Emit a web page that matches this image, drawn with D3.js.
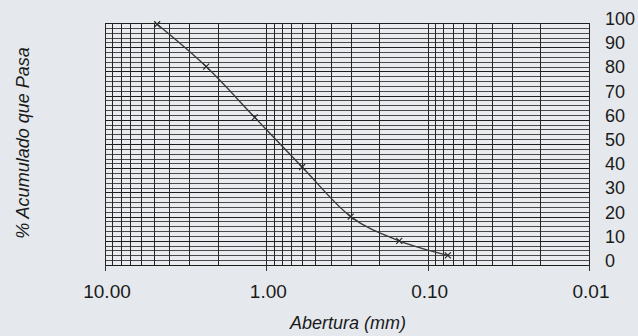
<!DOCTYPE html>
<meta charset="utf-8">
<head>
  <title>Curva granulometrica</title>
</head>
<style>
body { margin: 0; background: #e5e9ed; }
.curve { fill: none; stroke: #3a3a3a; stroke-width: 1.4px; }
.vgrid { stroke: #262626; stroke-width: 1px; }
.hgrid { stroke: #4a4a4a; stroke-width: 1px; }
.hgrid.major { stroke: #1e1e1e; }
.lbl { font-family: "Liberation Sans", Arial, sans-serif; fill: #1a1a1a; }
</style>
<body>
<script src="https://d3js.org/d3.v7.min.js"></script>
<script>

// sieve openings (mm) and % passing
var sizes = [4.75, 2.36, 1.18, 0.60, 0.30, 0.15, 0.075];
var passing = [99.5, 82, 61, 40.5, 20, 10, 4];

// tick labels
var xTicks = [10, 1, 0.1, 0.01];
var xTickLabels = ["10.00", "1.00", "0.10", "0.01"];
var yTicks = [0, 10, 20, 30, 40, 50, 60, 70, 80, 90, 100];

var width = 638, height = 336;
var margin = {top: 23, right: 49, bottom: 71, left: 105};

var svg = d3.select("body").append("svg")
    .attr("width", width)
    .attr("height", height);

// log x axis, reversed (big openings on the left)
var x = d3.scaleLog().domain([10, 0.01]).range([margin.left, width - margin.right]);
var y = d3.scaleLinear().domain([0, 100]).range([height - margin.bottom, margin.top]);

// plot area
svg.append("rect")
    .attr("x", x(10))
    .attr("y", y(100))
    .attr("width", x(0.01) - x(10))
    .attr("height", y(0) - y(100))
    .attr("fill", "#e9ebef");

// horizontal grid every 2 %
var hLines = d3.range(0, 101, 2);
svg.selectAll(".hgrid")
    .data(hLines)
  .enter().append("line")
    .attr("class", function(d) { return d % 10 == 0 ? "hgrid major" : "hgrid"; })
    .attr("x1", x(10))
    .attr("x2", x(0.01))
    .attr("y1", function(d) { return Math.round(y(d)) + 0.5; })
    .attr("y2", function(d) { return Math.round(y(d)) + 0.5; });

// vertical log grid 1..9 per decade
var vLines = [];
[0.01, 0.1, 1].forEach(function(dec) {
  for (var k = 1; k < 10; k++) vLines.push(dec * k);
});
vLines.push(10);
svg.selectAll(".vgrid")
    .data(vLines)
  .enter().append("line")
    .attr("class", "vgrid")
    .attr("x1", function(d) { return Math.round(x(d)) + 0.5; })
    .attr("x2", function(d) { return Math.round(x(d)) + 0.5; })
    .attr("y1", y(100))
    .attr("y2", y(0));

// small ticks below the decades
svg.selectAll(".xtick")
    .data(xTicks)
  .enter().append("line")
    .attr("stroke", "#333")
    .attr("x1", function(d) { return Math.round(x(d)) + 0.5; })
    .attr("x2", function(d) { return Math.round(x(d)) + 0.5; })
    .attr("y1", y(0))
    .attr("y2", y(0) + 6);

// x tick labels
svg.selectAll(".xlab")
    .data(xTicks)
  .enter().append("text")
    .attr("class", "lbl")
    .attr("x", function(d) { return x(d) + 2; })
    .attr("y", y(0) + 33)
    .attr("text-anchor", "middle")
    .style("font-size", "19px")
    .text(function(d, i) { return xTickLabels[i]; });

// y tick labels on the right
svg.selectAll(".ylab")
    .data(yTicks)
  .enter().append("text")
    .attr("class", "lbl")
    .attr("x", x(0.01) + 16)
    .attr("y", function(d) { return y(d) + 2; })
    .style("font-size", "18px")
    .text(function(d) { return d; });

// gradation curve
var pts = sizes.map(function(s, i) { return {s: s, p: passing[i]}; });
var valueline = d3.line()
    .curve(d3.curveMonotoneX)
    .x(function(d) { return x(d.s); })
    .y(function(d) { return y(d.p); });

svg.append("path")
    .datum(pts)
    .attr("class", "curve")
    .attr("d", valueline);

// x markers
var m = 3;
svg.selectAll(".mark")
    .data(pts)
  .enter().append("path")
    .attr("stroke", "#2a2a2a")
    .attr("stroke-width", 1.2)
    .attr("fill", "none")
    .attr("d", function(d) {
      var cx = x(d.s), cy = y(d.p);
      return "M" + (cx - m) + "," + (cy - m) + "L" + (cx + m) + "," + (cy + m) +
             "M" + (cx - m) + "," + (cy + m) + "L" + (cx + m) + "," + (cy - m);
    });

// axis titles
svg.append("text")
    .attr("class", "lbl")
    .attr("transform", "translate(29," + 143 + ") rotate(-90)")
    .attr("text-anchor", "middle")
    .style("font-size", "18px")
    .style("font-style", "italic")
    .text("% Acumulado que Pasa");

svg.append("text")
    .attr("class", "lbl")
    .attr("x", 348)
    .attr("y", 329)
    .attr("text-anchor", "middle")
    .style("font-size", "18px")
    .style("font-style", "italic")
    .text("Abertura (mm)");

</script>
</body>
